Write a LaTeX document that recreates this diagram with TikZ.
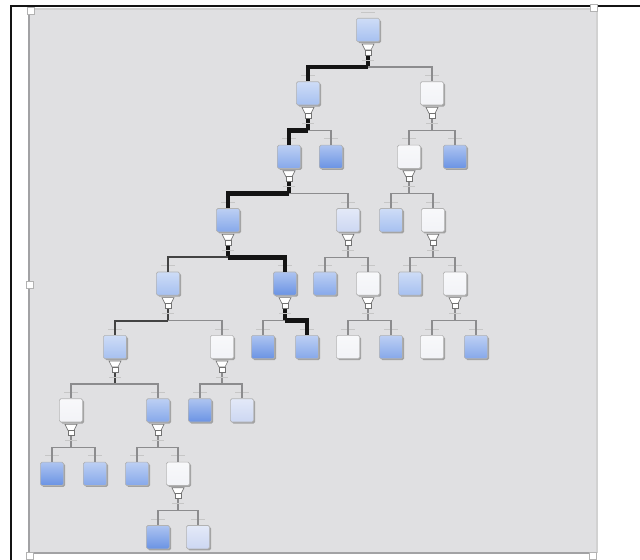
\documentclass[tikz,border=0pt]{standalone}
\usetikzlibrary{calc,shadows}
\definecolor{TreeInk}{HTML}{141414}
\definecolor{TreePaper}{HTML}{E0E0E2}
\definecolor{TreeRim}{HTML}{A2A2A4}
\definecolor{TreeWire}{HTML}{8C8C8E}
\definecolor{ShadeDeep}{HTML}{6A93E4}
\definecolor{ShadeMid}{HTML}{86A8EA}
\definecolor{ShadeSoft}{HTML}{A6C0F0}
\definecolor{ShadePale}{HTML}{CCD7F2}
\definecolor{ShadeWhite}{HTML}{F2F3F7}
\tikzset{
  treebox/.style={draw=gray!60, line width=0.5pt, rounded corners=1.2pt,
    minimum width=17.5pt, minimum height=17.5pt, inner sep=0pt,
    top color=#1!55!white, bottom color=#1,
    drop shadow={shadow xshift=1.1pt, shadow yshift=-1.1pt, fill=gray!85, opacity=0.8}},
  port/.style={draw=TreeInk!60, fill=white, line width=0.5pt},
  wire/.style={draw=TreeWire, line width=0.9pt},
  warmwire/.style={draw=TreeInk!80, line width=1.5pt},
  hotwire/.style={draw=TreeInk, line width=3.6pt},
  tag/.style={draw=gray!45, line width=0.6pt},
  handle/.style={draw=gray!60, fill=white, line width=0.5pt},
}
\begin{document}
\begin{tikzpicture}[x=0.75pt, y=-0.75pt]
  \useasboundingbox (0,0) rectangle (640,560);
  % Canvas and frame
  \fill[TreePaper] (28,8) rectangle (598,553);
  \draw[gray!35, line width=0.8pt] (29,9) -- (597,9) -- (597,553);
  \draw[TreeRim, line width=1.4pt] (29,12) -- (29,553) -- (597,553);
  \draw[TreeInk, line width=1.6pt] (11,560) -- (11,6) -- (640,6);
  \foreach \hx/\hy in {31/11, 30/285, 30/556, 594/8, 593/556}
    \draw[handle] (\hx-3.5,\hy-3.5) rectangle ++(7,7);
  % Tree nodes: name / x / level / shade
  \foreach \n/\x/\l/\c in {
      root/368/0/ShadeSoft,
      a/308/1/ShadeSoft, b/432/1/ShadeWhite,
      a1/289/2/ShadeMid, a2/331/2/ShadeDeep, b1/409/2/ShadeWhite, b2/455/2/ShadeDeep,
      a11/228/3/ShadeMid, a12/348/3/ShadePale, b11/391/3/ShadeSoft, b12/433/3/ShadeWhite,
      a111/168/4/ShadeSoft, a112/285/4/ShadeDeep, a121/325/4/ShadeMid,
      a122/368/4/ShadeWhite, b121/410/4/ShadeSoft, b122/455/4/ShadeWhite,
      a1111/115/5/ShadeSoft, a1112/222/5/ShadeWhite, a1121/263/5/ShadeDeep,
      a1122/307/5/ShadeMid, a1221/348/5/ShadeWhite, a1222/391/5/ShadeMid,
      b1221/432/5/ShadeWhite, b1222/476/5/ShadeMid,
      a11111/71/6/ShadeWhite, a11112/158/6/ShadeMid,
      a11121/200/6/ShadeDeep, a11122/242/6/ShadePale,
      a111111/52/7/ShadeDeep, a111112/95/7/ShadeMid,
      a111121/137/7/ShadeMid, a111122/178/7/ShadeWhite,
      a1111221/158/8/ShadeDeep, a1111222/198/8/ShadePale} {
    \node[treebox=\c] (\n) at (\x,{30+63.4*\l}) {};
    \draw[tag] ($(\n)+(-7,-18)$) -- ($(\n)+(7,-18)$);
  }
  % Split ports under the inner nodes
  \foreach \p/\s in {b/wire, b1/wire, a12/wire, b12/wire, a122/wire, b122/wire,
      a1112/wire, a11111/wire, a11112/wire, a111122/wire,
      a1111/warmwire, a111/warmwire,
      root/hotwire, a/hotwire, a1/hotwire, a11/hotwire, a112/hotwire} {
    \coordinate (\p-j) at ($(\p)+(0,37)$);
    \draw[\s] ($(\p)+(0,24)$) -- (\p-j);
    \draw[port] ($(\p)+(-6,14)$) -- ($(\p)+(6,14)$) -- ($(\p)+(3,20)$)
      -- ($(\p)+(-3,20)$) -- cycle;
    \draw[port] ($(\p)+(-3,20)$) rectangle ($(\p)+(3,25)$);
    \draw[tag] ($(\p)+(-6,30)$) -- ($(\p)+(6,30)$);
  }
  % Branches: parent / child / style
  \foreach \p/\q/\s in {
      root/b/wire, a/a2/wire, b/b1/wire, b/b2/wire,
      a1/a12/wire, b1/b11/wire, b1/b12/wire,
      a11/a111/warmwire, a12/a121/wire, a12/a122/wire, b12/b121/wire, b12/b122/wire,
      a111/a1111/warmwire, a111/a1112/wire, a112/a1121/wire,
      a122/a1221/wire, a122/a1222/wire, b122/b1221/wire, b122/b1222/wire,
      a1111/a11111/wire, a1111/a11112/wire, a1112/a11121/wire, a1112/a11122/wire,
      a11111/a111111/wire, a11111/a111112/wire, a11112/a111121/wire, a11112/a111122/wire,
      a111122/a1111221/wire, a111122/a1111222/wire,
      root/a/hotwire, a/a1/hotwire, a1/a11/hotwire, a11/a112/hotwire, a112/a1122/hotwire}
    \draw[\s] (\p-j) -| (\q.north);
\end{tikzpicture}
\end{document}
